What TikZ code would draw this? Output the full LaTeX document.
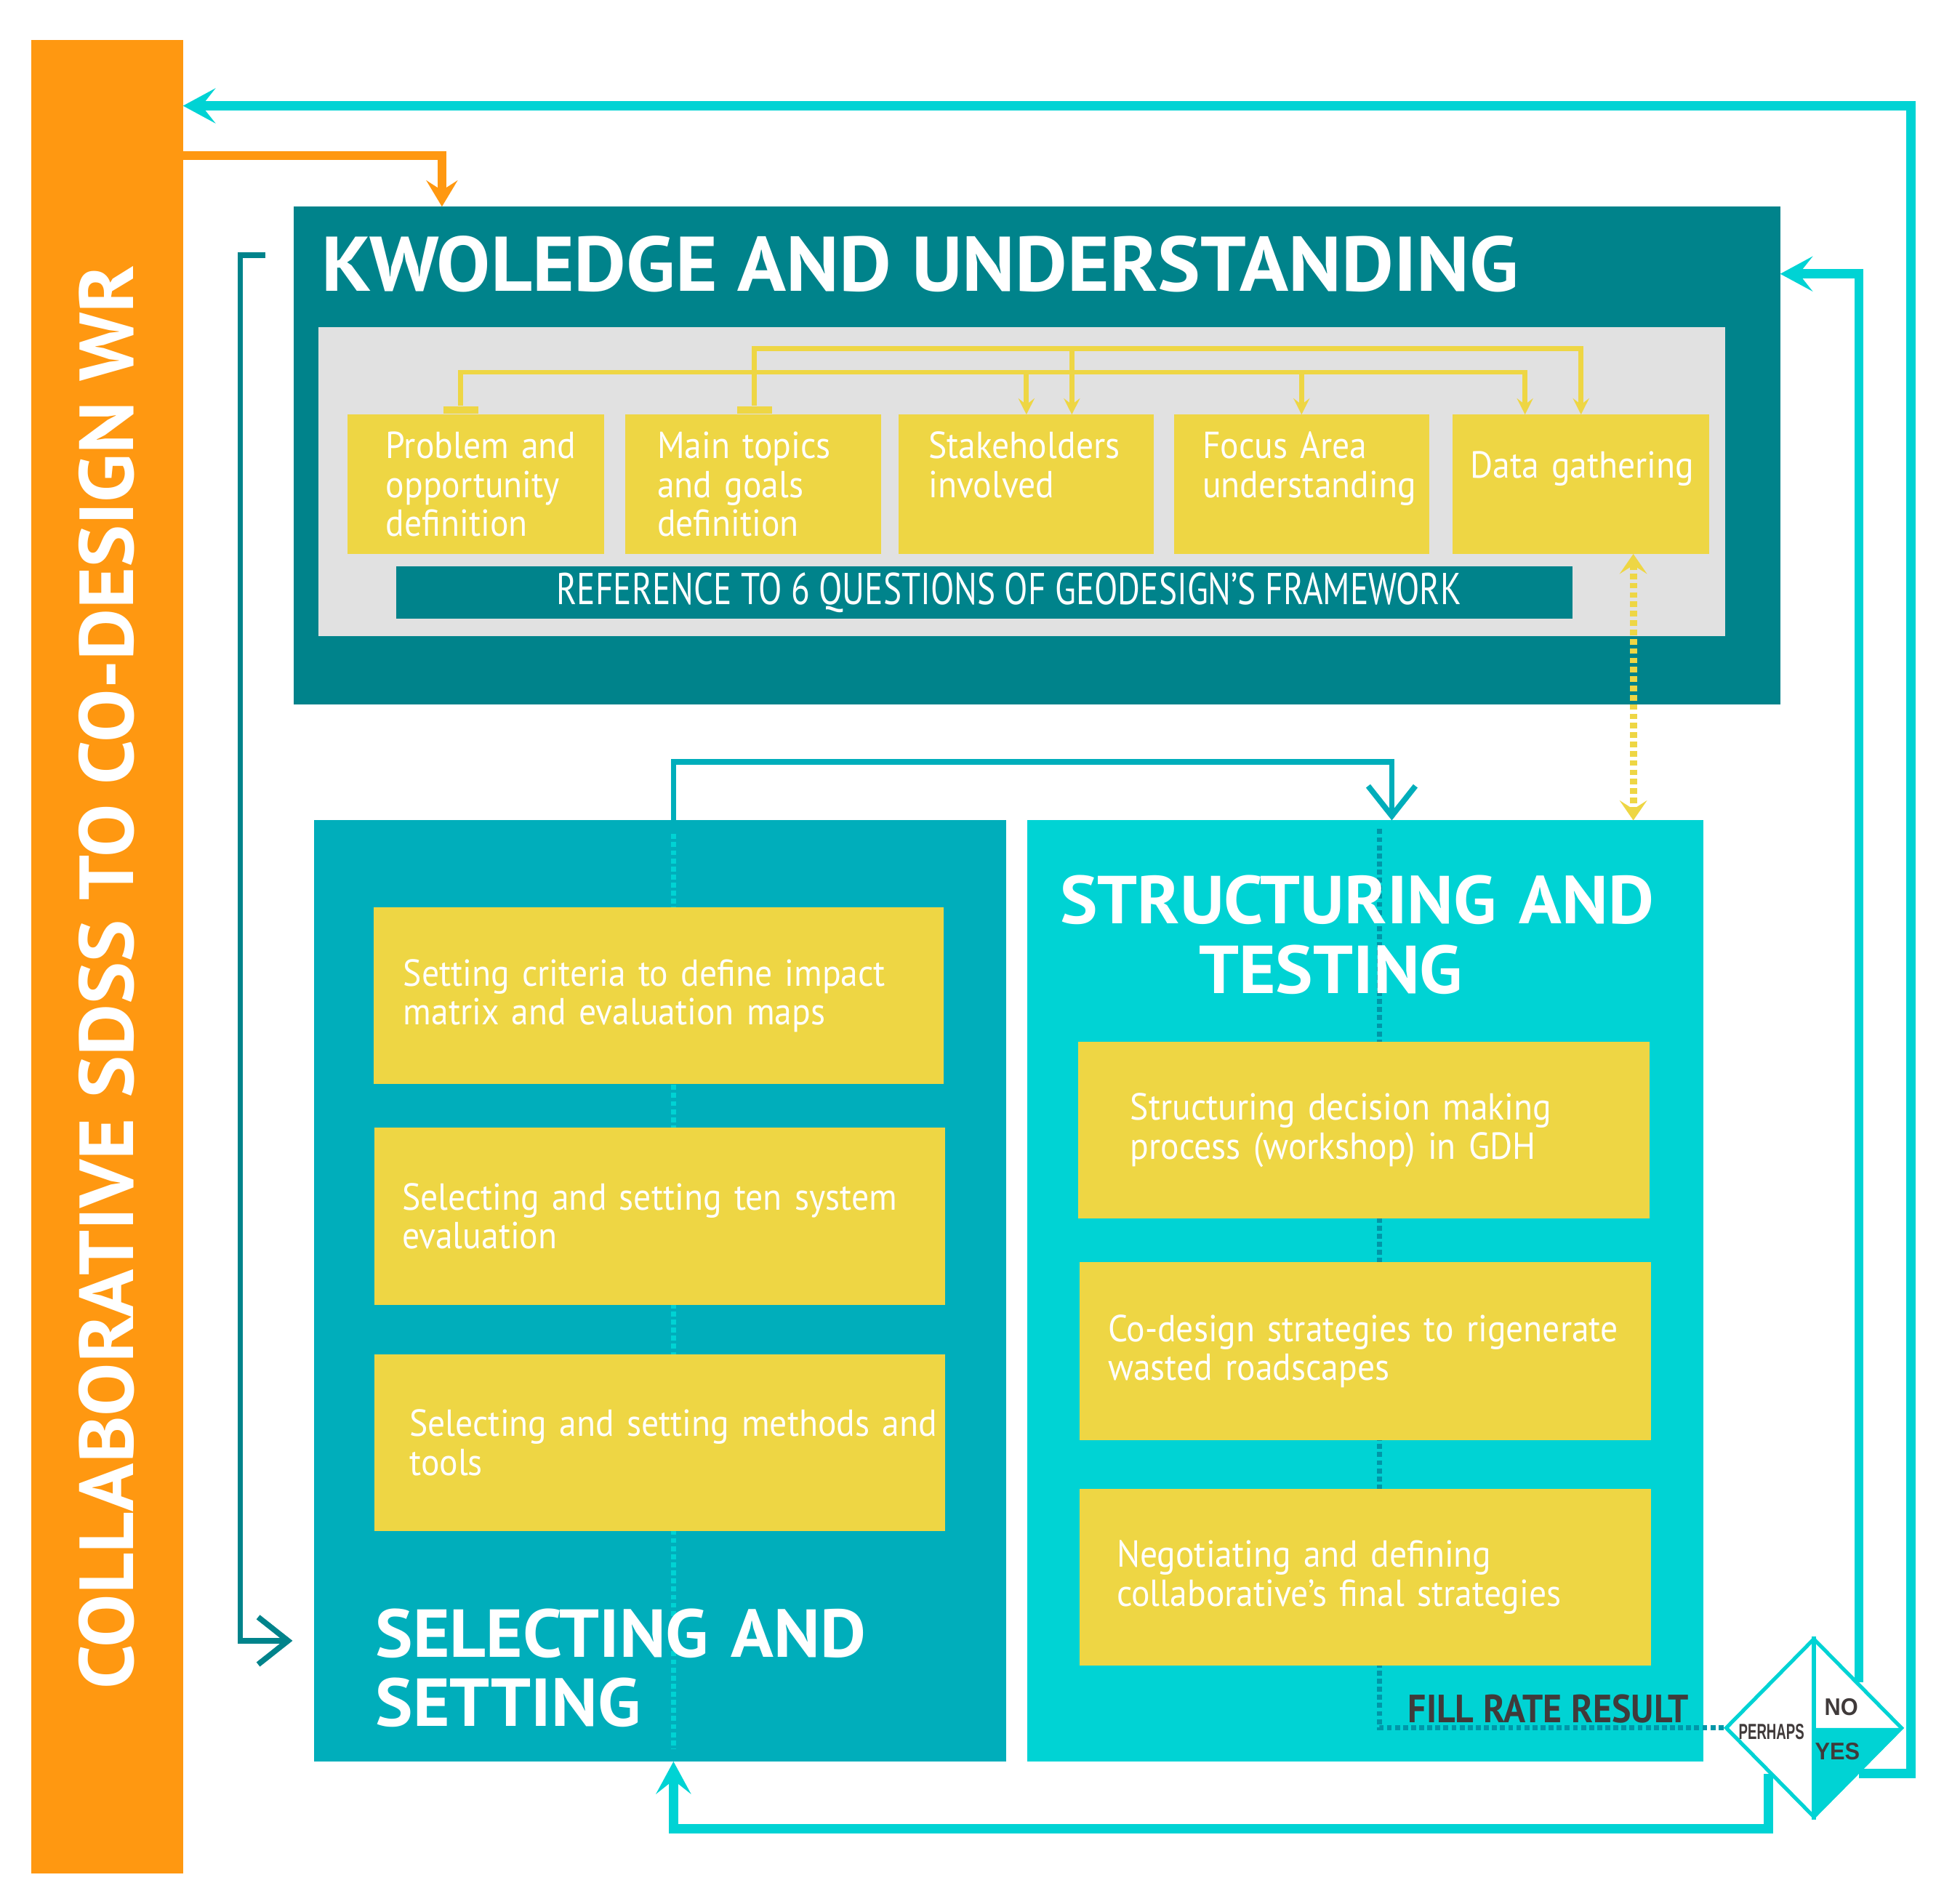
\documentclass[tikz,border=0pt]{standalone}
\usepackage{fontspec}
\setmainfont{PT Sans}
\newfontfamily\condfont[FakeStretch=0.92]{PT Sans}
\newfontfamily\reffont[FakeStretch=0.77]{PT Sans}
\newfontfamily\headfont[FakeStretch=1.04]{PT Sans}
\newfontfamily\narrowfont[FakeStretch=0.93]{Liberation Sans}
\newfontfamily\narrowerfont[FakeStretch=0.62]{Liberation Sans}
\usetikzlibrary{arrows.meta,shapes.geometric}
\definecolor{sdssorange}{RGB}{255,152,17}
\definecolor{kudark}{RGB}{0,131,139}
\definecolor{selteal}{RGB}{0,174,187}
\definecolor{strcyan}{RGB}{0,211,212}
\definecolor{boxyellow}{RGB}{238,214,68}
\definecolor{panelgray}{RGB}{225,225,225}
\definecolor{textgray}{RGB}{64,58,58}
\definecolor{dotdark}{RGB}{0,150,168}
\newcommand{\boxtext}{\condfont\fontsize{8.6}{8.9}\selectfont}
\newcommand{\headtext}{\headfont\bfseries\fontsize{15.5}{15.9}\selectfont}
\newcommand{\bigheadtext}{\headfont\bfseries\fontsize{17.7}{17.7}\selectfont}
\newcommand{\sidetext}{\headfont\bfseries\fontsize{17.5}{17.5}\selectfont}
\newcommand{\reftext}{\reffont\fontsize{10.2}{10.2}\selectfont}
\newcommand{\ratetext}{\condfont\bfseries\fontsize{9}{9}\selectfont}
\newcommand{\choicetext}{\narrowfont\bfseries\fontsize{5.5}{5.5}\selectfont}
\newcommand{\perhapstext}{\narrowerfont\bfseries\fontsize{5}{5}\selectfont}

\begin{document}
\begin{tikzpicture}[x=0.1mm,y=-0.1mm,
  block/.style={anchor=north west,inner sep=0pt,outer sep=0pt},
  ybox/.style 2 args={block,fill=boxyellow,text=white,align=left,font=\boxtext,text width=#2,execute at begin node={\leftskip=#1}},
  head/.style={text=white,inner sep=0pt},
  cyanline/.style={draw=strcyan,line width=0.75mm,-{Stealth[length=2.6mm,width=2.8mm,inset=1.1mm]}},
  orangeline/.style={draw=sdssorange,line width=0.7mm,-{Stealth[length=2.1mm,width=2.5mm,inset=0.8mm]}},
  yline/.style={draw=boxyellow,line width=0.4mm,-{Stealth[length=1.3mm,width=1.3mm,inset=0.5mm]}},
  ydash/.style={draw=boxyellow,line width=0.6mm,dash pattern=on 0.45mm off 0.3mm,{Stealth[length=1.6mm,width=2.2mm,inset=0.7mm]}-{Stealth[length=1.6mm,width=2.2mm,inset=0.7mm]}},
  openline/.style={line width=0.45mm,-{Straight Barb[length=2.4mm,width=3.8mm]}},
  dots/.style={line width=0.4mm,dash pattern=on 0.4mm off 0.25mm},
  choice/.style={text=textgray,font=\choicetext,inner sep=0pt}
]
\useasboundingbox (0,0) rectangle (1568,1529);

% side bar
\node[block,fill=sdssorange,minimum width=12.2mm,minimum height=147.3mm] (sdss) at (25,32) {};
\node[head,rotate=90,anchor=base,font=\sidetext] (sdsstext) at (107,785) {COLLABORATIVE SDSS TO CO-DESIGN WR};

% knowledge and understanding
\node[block,fill=kudark,minimum width=119.4mm,minimum height=40mm] (know) at (236,166) {};
\node[head,anchor=base west,font=\bigheadtext] (knowtitle) at (258,234) {KWOLEDGE AND UNDERSTANDING};
\node[block,fill=panelgray,minimum width=113mm,minimum height=24.8mm] (panel) at (256,263) {};
\node[ybox={3.1mm}{20.6mm},minimum height=11.2mm] (problem) at (279,333) {Problem and\\opportunity\\definition};
\node[ybox={2.6mm}{20.6mm},minimum height=11.2mm] (topics) at (502,333) {Main topics\\and goals\\definition};
\node[ybox={2.4mm}{20.5mm},minimum height=11.2mm] (stake) at (722,333) {Stakeholders\\involved\\\mbox{}};
\node[ybox={2.3mm}{20.5mm},minimum height=11.2mm] (focus) at (943,333) {Focus Area\\understanding\\\mbox{}};
\node[ybox={1.4mm}{20.6mm},minimum height=11.2mm] (data) at (1167,333) {Data gathering\rule[-3.2mm]{0pt}{0pt}};
\node[block,fill=kudark,minimum width=94.5mm,minimum height=4.2mm,text=white,font=\reftext] (ref) at (318,455) {\hspace*{4mm}REFERENCE TO 6 QUESTIONS OF GEODESIGN’S FRAMEWORK};

% links between the first steps
\node[fill=boxyellow,inner sep=0pt,minimum width=2.8mm,minimum height=0.6mm,anchor=south] (tabA) at (370,333) {};
\node[fill=boxyellow,inner sep=0pt,minimum width=2.8mm,minimum height=0.6mm,anchor=south] (tabB) at (606,333) {};
\coordinate (ya) at (0,299);
\coordinate (yb) at (0,280);
\coordinate (dA) at (1225,333);
\coordinate (sB) at (861,333);
\draw[yline] (tabA.north) |- (dA |- ya) -- (dA);
\draw[yline] (tabB.north) |- (data.north |- yb) -- (data.north);
\draw[yline] (stake.north |- ya) -- (stake.north);
\draw[yline] (sB |- yb) -- (sB);
\draw[yline] (focus.north |- ya) -- (focus.north);

% selecting and setting / structuring and testing
\node[block,fill=selteal,minimum width=55.6mm,minimum height=75.6mm] (sel) at (252,659) {};
\node[block,fill=strcyan,minimum width=54.3mm,minimum height=75.6mm] (str) at (825,659) {};
\node[diamond,draw=strcyan,fill=white,line width=0.3mm,inner sep=0pt,minimum width=14.2mm,minimum height=14.4mm] (rate) at (1457,1388) {};
\draw[dots,draw=strcyan] (541,670) -- (541,1405);
\draw[dots,draw=dotdark] (1108,666) |- (rate.west);

\node[ybox={2.4mm}{45.8mm},minimum height=14.2mm] (criteria) at (300,729) {Setting criteria to define impact\\matrix and evaluation maps};
\node[ybox={2.2mm}{45.8mm},minimum height=14.2mm] (tensys) at (301,906) {Selecting and setting ten system\\evaluation};
\node[ybox={2.8mm}{45.8mm},minimum height=14.2mm] (methods) at (301,1088) {Selecting and setting methods and\\tools};
\node[head,anchor=base west,align=left,text width=50mm,font=\headtext] (seltitle) at (301,1331) {SELECTING AND\\SETTING};

\node[head,anchor=base,align=center,text width=52mm,font=\headtext] (strtitle) at (1090,742) {STRUCTURING AND\\TESTING\hspace*{4.2mm}};
\node[ybox={4.2mm}{45.9mm},minimum height=14.2mm] (workshop) at (866,837) {Structuring decision making\\process (workshop) in GDH};
\node[ybox={2.3mm}{45.9mm},minimum height=14.3mm] (codesign) at (867,1014) {Co-design strategies to rigenerate\\wasted roadscapes};
\node[ybox={3mm}{45.9mm},minimum height=14.2mm] (negotiate) at (867,1196) {Negotiating and defining\\collaborative’s final strategies};
\node[anchor=base east,inner sep=0pt,text=textgray,font=\ratetext] (fillrate) at (1357,1384) {FILL RATE RESULT};

% decision diamond
\fill[strcyan] (rate.center) -- (rate.east) -- (rate.south) -- cycle;
\draw[strcyan,line width=0.3mm] (rate.north) -- (rate.south);
\node[choice,font=\perhapstext] (perhaps) at (1423,1391) {PERHAPS};
\node[choice] (no) at (1479,1371) {NO};
\node[choice] (yes) at (1476,1407) {YES};

% connectors
\coordinate (oy) at (0,125);
\coordinate (kin) at (355,166);
\draw[orangeline] (sdss.east |- oy) -| (kin);

\coordinate (yesc) at (1535,85);
\draw[cyanline] (rate.south east) -| (yesc) -- (sdss.east |- yesc);
\coordinate (noc) at (1487,220);
\draw[cyanline] (rate.north east) |- (know.east |- noc);
\coordinate (selin) at (541,1469);
\draw[cyanline] (rate.south west) |- (selin) -- (selin |- sel.south);

\coordinate (loop) at (541,612);
\coordinate (strin) at (1118,659);
\draw[openline,draw=selteal] (loop |- sel.north) -- (loop) -| (strin);

\coordinate (brtop) at (213,205);
\coordinate (brbot) at (193,1318);
\coordinate (brend) at (235,1318);
\draw[openline,draw=kudark] (brtop) -| (brbot) -- (brend);

\coordinate (dgx) at (1312,0);
\draw[ydash] (dgx |- data.south) -- (dgx |- str.north);
\end{tikzpicture}
\end{document}
